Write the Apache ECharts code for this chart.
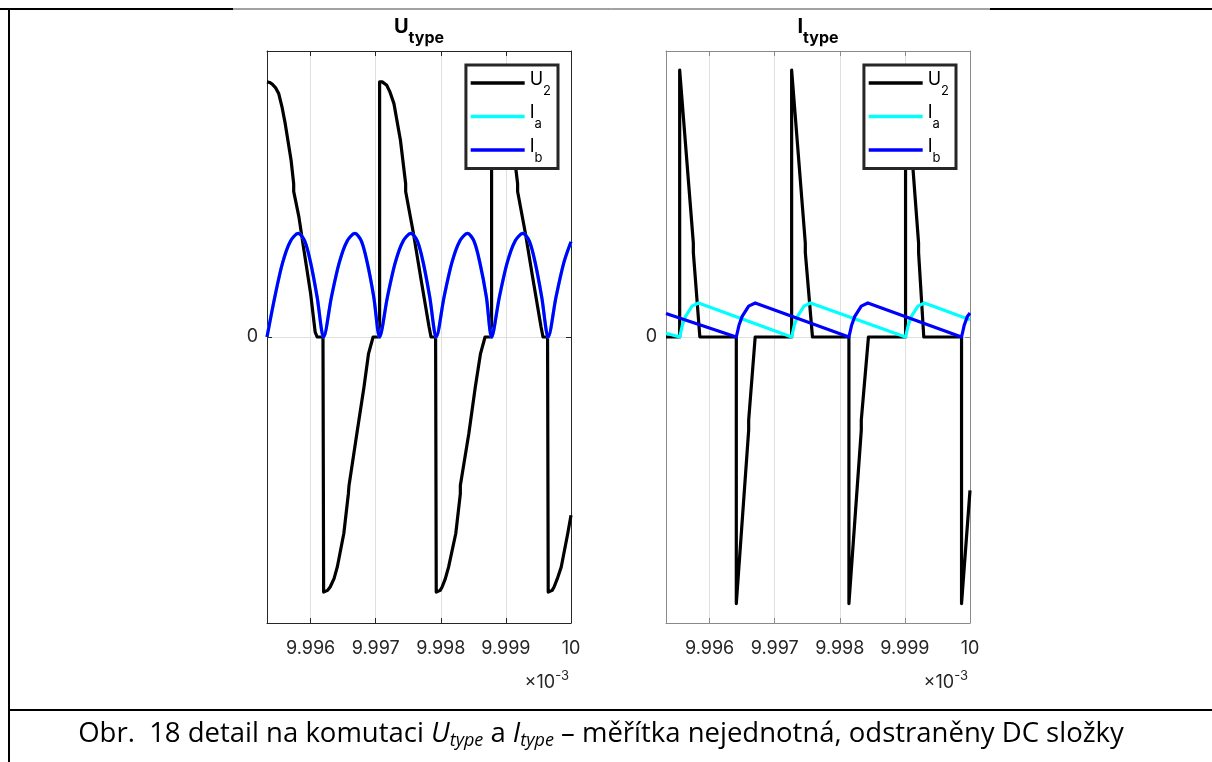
<!DOCTYPE html>
<html>
<head>
<meta charset="utf-8">
<script src="https://cdn.jsdelivr.net/npm/echarts@6.0.0/dist/echarts.min.js"></script>
<style>
  html, body { margin: 0; padding: 0; background: #ffffff; }
  #chart { width: 1212px; height: 762px; }
</style>
</head>
<body>
<div id="chart"></div>
<script>
// Time axis, in units of 1e-3 s (the "x10^-3" note is drawn under each axis)
const xMin = 9.99533;
const xMax = 10;
const xTicks = [9.996, 9.997, 9.998, 9.999, 10];
const xTickLabels = ['9.996', '9.997', '9.998', '9.999', '10'];
const yTicks = [0];
const yTickLabels = ['0'];
const seriesNames = ['U2', 'Ia', 'Ib'];

// U_type panel: [time, value], DC removed, scale not shared with the other panel
const uTypeU2 = [
  [9.99533, 0.892], [9.99537, 0.890], [9.99541, 0.884], [9.99546, 0.872], [9.99551, 0.851], [9.99556, 0.805], [9.99561, 0.746], [9.99570, 0.618],
  [9.99574, 0.536], [9.99574, 0.509], [9.99582, 0.420], [9.99589, 0.315], [9.99600, 0.152],
  [9.99607, 0.017], [9.99610, 0], [9.99619, 0], [9.99620, -0.892], [9.99623, -0.892],
  [9.99626, -0.886], [9.99630, -0.874], [9.99636, -0.845], [9.99641, -0.804], [9.99651, -0.687], [9.99658, -0.548], [9.99659, -0.519],
  [9.99671, -0.338], [9.99682, -0.175], [9.99689, -0.058], [9.99696, 0], [9.99706, 0],
  [9.99706, 0.892], [9.99710, 0.892], [9.99713, 0.889], [9.99717, 0.880], [9.99722, 0.856], [9.99728, 0.816], [9.99738, 0.688],
  [9.99746, 0.536], [9.99746, 0.509], [9.99758, 0.362], [9.99769, 0.210], [9.99782, 0.035],
  [9.99785, 0], [9.99792, 0], [9.99793, -0.892], [9.99796, -0.892], [9.99799, -0.886], [9.99802, -0.874],
  [9.99807, -0.845], [9.99812, -0.804], [9.99823, -0.687], [9.99830, -0.548], [9.99830, -0.519], [9.99843, -0.338],
  [9.99853, -0.175], [9.99861, -0.058], [9.99868, 0], [9.99878, 0], [9.99878, 0.892],
  [9.99882, 0.892], [9.99885, 0.889], [9.99889, 0.880], [9.99894, 0.856], [9.99900, 0.816], [9.99910, 0.688], [9.99918, 0.536],
  [9.99918, 0.509], [9.99930, 0.362], [9.99941, 0.210], [9.99954, 0.035], [9.99957, 0],
  [9.99964, 0], [9.99965, -0.892], [9.99968, -0.892], [9.99971, -0.886], [9.99974, -0.874], [9.99979, -0.845], [9.99985, -0.804],
  [9.99995, -0.687], [10.0, -0.623]
];
const uTypeIb = [
  [9.99533, 0], [9.99545, 0.14], [9.99557, 0.26], [9.99569, 0.335], [9.99581, 0.362],
  [9.99591, 0.335], [9.99600, 0.26], [9.99610, 0.14], [9.99620, 0],
  [9.99632, 0.14], [9.99644, 0.26], [9.99656, 0.335], [9.99668, 0.362],
  [9.99678, 0.335], [9.99687, 0.26], [9.99697, 0.14], [9.99706, 0],
  [9.99718, 0.14], [9.99730, 0.26], [9.99742, 0.335], [9.99754, 0.362],
  [9.99764, 0.335], [9.99773, 0.26], [9.99783, 0.14], [9.99793, 0],
  [9.99805, 0.14], [9.99817, 0.26], [9.99829, 0.335], [9.99841, 0.362],
  [9.99851, 0.335], [9.99860, 0.26], [9.99870, 0.14], [9.99878, 0],
  [9.99890, 0.14], [9.99902, 0.26], [9.99914, 0.335], [9.99926, 0.362],
  [9.99936, 0.335], [9.99945, 0.26], [9.99955, 0.14], [9.99965, 0],
  [9.99977, 0.14], [9.99989, 0.26], [10.0, 0.333]
];
// Ia runs under Ib in this panel
const uTypeIa = uTypeIb;

// I_type panel
const iTypeU2 = [
  [9.99533, 0], [9.99554, 0], [9.99554, 0.933], [9.99556, 0.933], [9.99575, 0.328],
  [9.99575, 0.296], [9.99585, 0], [9.99641, 0], [9.99641, -0.932], [9.99643, -0.932],
  [9.99660, -0.326], [9.99660, -0.291], [9.99670, 0], [9.99726, 0], [9.99726, 0.933],
  [9.99728, 0.933], [9.99747, 0.328], [9.99747, 0.296], [9.99758, 0], [9.99814, 0],
  [9.99814, -0.932], [9.99816, -0.932], [9.99833, -0.326], [9.99833, -0.291], [9.99844, 0],
  [9.99901, 0], [9.99901, 0.933], [9.99903, 0.933], [9.99921, 0.328], [9.99921, 0.296],
  [9.99929, 0], [9.99987, 0], [9.99987, -0.932], [9.99989, -0.932], [10.0, -0.536]
];
const iTypeIa = [
  [9.99533, 0.013], [9.99554, 0], [9.99558, 0.040], [9.99563, 0.072], [9.99573, 0.108],
  [9.99583, 0.119], [9.99726, 0], [9.99730, 0.040], [9.99735, 0.072], [9.99745, 0.108],
  [9.99755, 0.119], [9.99901, 0], [9.99905, 0.040], [9.99910, 0.072], [9.99920, 0.108],
  [9.99930, 0.119], [10.0, 0.060]
];
const iTypeIb = [
  [9.99533, 0.082], [9.99641, 0], [9.99645, 0.040], [9.99650, 0.072], [9.99660, 0.108],
  [9.99670, 0.119], [9.99814, 0], [9.99818, 0.040], [9.99823, 0.072], [9.99833, 0.108],
  [9.99843, 0.119], [9.99987, 0], [9.99991, 0.040], [9.99996, 0.072], [10.0, 0.084]
];

const FONT = 'Inter, "Liberation Sans", Arial, sans-serif';
const CAPTION_FONT = '"Open Sans", "Noto Sans", sans-serif';
const TXT = '#262626';
const GRIDLINE = '#dfdfdf';
const COLORS = { U2: '#000000', Ia: '#00ffff', Ib: '#0000ff' };
const LINE_W = 3.2;

function xLabel(v) {
  const i = xTicks.findIndex(t => Math.abs(t - v) < 1e-7);
  return i >= 0 ? xTickLabels[i] : '';
}
function yLabel(v) {
  const i = yTicks.findIndex(t => Math.abs(t - v) < 1e-9);
  return i >= 0 ? yTickLabels[i] : '';
}

function xAxisFor(grid, pos, color) {
  const bottom = pos === 'bottom';
  return {
    type: 'value', gridIndex: grid, position: pos,
    min: xMin, max: xMax, minInterval: 0.001, maxInterval: 0.001, splitNumber: 5,
    axisLine: { show: true, onZero: false, lineStyle: { color: color, width: 1 } },
    axisTick: { show: true, inside: true, length: 5, lineStyle: { color: color, width: 1 } },
    axisLabel: { show: bottom, margin: 17, color: TXT, fontFamily: FONT, fontSize: 18, formatter: xLabel },
    splitLine: { show: bottom, lineStyle: { color: GRIDLINE, width: 1 } }
  };
}
function yAxisFor(grid, pos, color) {
  const left = pos === 'left';
  return {
    type: 'value', gridIndex: grid, position: pos,
    min: -1, max: 1, interval: 1,
    axisLine: { show: true, onZero: false, lineStyle: { color: color, width: 1 } },
    axisTick: { show: true, inside: true, length: 5, lineStyle: { color: color, width: 1 } },
    axisLabel: { show: left, margin: 9, color: TXT, fontFamily: FONT, fontSize: 18, formatter: yLabel },
    splitLine: { show: left, lineStyle: { color: GRIDLINE, width: 1 } }
  };
}

function line(name, data, xi, yi, smooth) {
  return {
    type: 'line', name: name, data: data,
    xAxisIndex: xi, yAxisIndex: yi,
    symbol: 'none', showSymbol: false, smooth: smooth || false,
    lineStyle: { color: COLORS[name], width: LINE_W, join: 'round', cap: 'butt' },
    itemStyle: { color: COLORS[name] },
    silent: true, animation: false, clip: true
  };
}

function legendFor(rightOffset) {
  return {
    data: seriesNames, orient: 'vertical', right: rightOffset, top: 65,
    icon: 'rect', itemWidth: 54, itemHeight: 3.5, itemGap: 4.5,
    padding: [3.5, 7, 4, 4.75],
    backgroundColor: '#ffffff', borderColor: '#262626', borderWidth: 3, borderRadius: 0,
    selectedMode: false,
    formatter: function (name) { return '{m|' + name.charAt(0) + '}{s|' + name.slice(1) + '}'; },
    textStyle: {
      color: '#000', fontFamily: FONT,
      rich: {
        m: { fontSize: 18, fontFamily: FONT, color: '#000', lineHeight: 29, padding: [0, 0, 7, 0] },
        s: { fontSize: 13, fontFamily: FONT, color: '#000', lineHeight: 29, padding: [16, 0, 0, 0] }
      }
    }
  };
}

function panelTitle(x, main, sub) {
  return {
    type: 'text', x: x, y: 27, z: 10,
    style: {
      text: '{m|' + main + '}{s|' + sub + '}', align: 'center', verticalAlign: 'middle',
      rich: {
        m: { fontSize: 20, fontWeight: 'bold', fontFamily: FONT, fill: '#000', lineHeight: 48 },
        s: { fontSize: 16, fontWeight: 'bold', fontFamily: FONT, fill: '#000', lineHeight: 48, padding: [22, 0, 0, 0] }
      }
    }
  };
}
function exponentNote(x) {
  return {
    type: 'text', x: x, y: 683, z: 10,
    style: {
      text: '{a|\u00d710}{b|-3}', align: 'right', verticalAlign: 'middle',
      rich: {
        a: { fontSize: 18, fontFamily: FONT, fill: TXT, lineHeight: 30 },
        b: { fontSize: 13, fontFamily: FONT, fill: TXT, lineHeight: 30, padding: [0, 0, 14, 0] }
      }
    }
  };
}
function rule(x1, y1, x2, y2, w, c) {
  return { type: 'line', z: 20, shape: { x1: x1, y1: y1, x2: x2, y2: y2 }, style: { stroke: c, lineWidth: w } };
}

const chart = echarts.init(document.getElementById('chart'), null, { renderer: 'canvas' });
chart.setOption({
  backgroundColor: '#ffffff',
  animation: false,
  grid: [
    { left: 267, top: 51, width: 304, height: 572, containLabel: false },
    { left: 666, top: 51, width: 304, height: 572, containLabel: false }
  ],
  xAxis: [
    xAxisFor(0, 'bottom', '#262626'), xAxisFor(0, 'top', '#262626'),
    xAxisFor(1, 'bottom', '#8a8a8a'), xAxisFor(1, 'top', '#8a8a8a')
  ],
  yAxis: [
    yAxisFor(0, 'left', '#262626'), yAxisFor(0, 'right', '#262626'),
    yAxisFor(1, 'left', '#8a8a8a'), yAxisFor(1, 'right', '#8a8a8a')
  ],
  legend: [legendFor(654), legendFor(256)],
  series: [
    line('U2', uTypeU2, 0, 0),
    line('Ia', uTypeIa, 0, 0, 0.3),
    line('Ib', uTypeIb, 0, 0, 0.3),
    line('U2', iTypeU2, 2, 2),
    line('Ia', iTypeIa, 2, 2),
    line('Ib', iTypeIb, 2, 2)
  ],
  graphic: [
    panelTitle(419, 'U', 'type'),
    panelTitle(818, 'I', 'type'),
    exponentNote(569),
    exponentNote(968),
    {
      type: 'text', x: 601, y: 734, z: 10,
      style: {
        text: 'Obr.  18 detail na komutaci {i|U}{is|type} a {i|I}{is|type} \u2013 m\u011b\u0159\u00edtka nejednotn\u00e1, odstran\u011bny DC slo\u017eky',
        align: 'center', verticalAlign: 'middle',
        fontSize: 27.5, fontFamily: CAPTION_FONT, fill: '#000',
        rich: {
          i: { fontSize: 27.5, fontStyle: 'italic', fontFamily: CAPTION_FONT, fill: '#000', lineHeight: 40 },
          is: { fontSize: 18, fontStyle: 'italic', fontFamily: CAPTION_FONT, fill: '#000', lineHeight: 40, padding: [13, 0, 0, 0] }
        }
      }
    },
    rule(0, 9, 233, 9, 2, '#000'),
    rule(233, 9, 990, 9, 1, '#444'),
    rule(990, 9, 1212, 9, 2, '#000'),
    rule(9, 8, 9, 762, 2, '#000'),
    rule(8, 710, 1212, 710, 2, '#000')
  ]
});
</script>
</body>
</html>
